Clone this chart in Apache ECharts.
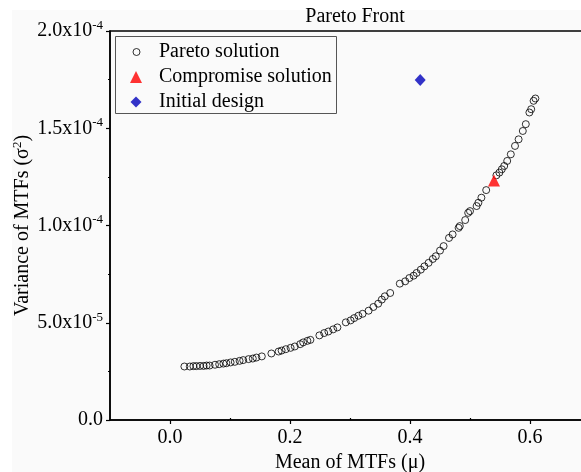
<!DOCTYPE html>
<html>
<head>
<meta charset="utf-8">
<script src="https://cdn.jsdelivr.net/npm/echarts@6/dist/echarts.min.js"></script>
<style>
  html, body { margin: 0; padding: 0; background: #fff; }
  #chart { width: 581px; height: 472px; }
</style>
</head>
<body>
<div id="chart"></div>
<script>
// mean (x) and variance (y) of the pareto front
var paretoMean = [0.024, 0.033, 0.039, 0.044, 0.050, 0.056, 0.061, 0.066, 0.075, 0.082,
  0.089, 0.094, 0.101, 0.108, 0.116, 0.122, 0.131, 0.138, 0.144, 0.153,
  0.169, 0.181, 0.186, 0.193, 0.201, 0.208, 0.217, 0.222, 0.229, 0.234,
  0.249, 0.257, 0.264, 0.272, 0.279, 0.293, 0.301, 0.307, 0.314, 0.321,
  0.331, 0.339, 0.347, 0.353, 0.358, 0.367, 0.383, 0.392, 0.399, 0.406,
  0.411, 0.418, 0.424, 0.431, 0.438, 0.443, 0.450, 0.456, 0.465, 0.471,
  0.481, 0.483, 0.492, 0.497, 0.500, 0.511, 0.514, 0.519, 0.527, 0.544,
  0.549, 0.553, 0.557, 0.562, 0.568, 0.575, 0.581, 0.588, 0.593, 0.599,
  0.602, 0.606, 0.609];
var paretoVar = [2.75e-5, 2.75e-5, 2.77e-5, 2.77e-5, 2.78e-5, 2.78e-5, 2.80e-5, 2.80e-5, 2.84e-5, 2.87e-5,
  2.90e-5, 2.92e-5, 2.96e-5, 2.99e-5, 3.04e-5, 3.08e-5, 3.13e-5, 3.16e-5, 3.21e-5, 3.27e-5,
  3.42e-5, 3.52e-5, 3.57e-5, 3.64e-5, 3.71e-5, 3.78e-5, 3.90e-5, 3.99e-5, 4.07e-5, 4.12e-5,
  4.35e-5, 4.47e-5, 4.55e-5, 4.66e-5, 4.76e-5, 5.02e-5, 5.12e-5, 5.24e-5, 5.36e-5, 5.46e-5,
  5.62e-5, 5.81e-5, 5.98e-5, 6.19e-5, 6.36e-5, 6.53e-5, 7.01e-5, 7.13e-5, 7.30e-5, 7.42e-5,
  7.56e-5, 7.73e-5, 7.90e-5, 8.08e-5, 8.28e-5, 8.42e-5, 8.71e-5, 8.94e-5, 9.36e-5, 9.54e-5,
  9.88e-5, 9.97e-5, 1.028e-4, 1.065e-4, 1.074e-4, 1.100e-4, 1.117e-4, 1.143e-4, 1.182e-4, 1.258e-4,
  1.272e-4, 1.289e-4, 1.306e-4, 1.332e-4, 1.366e-4, 1.409e-4, 1.443e-4, 1.486e-4, 1.521e-4, 1.581e-4,
  1.598e-4, 1.641e-4, 1.653e-4];
var compromise = [0.540, 1.232e-4];
var initialDesign = [0.417, 1.748e-4];

// tick labels
var xTicks = [0, 0.2, 0.4, 0.6];
var xMinorTicks = [0.1, 0.3, 0.5];
var xTickText = ['0.0', '0.2', '0.4', '0.6'];
var yTicks = [0, 5e-5, 1e-4, 1.5e-4, 2e-4];
var yMinorTicks = [2.5e-5, 7.5e-5, 1.25e-4, 1.75e-4];
var yTickText = ['0.0', '5.0x10', '1.0x10', '1.5x10', '2.0x10'];
var yTickExp = ['', '-5', '-4', '-4', '-4'];

var FONT = '"Liberation Serif", "Times New Roman", serif';

function pick(list, v) {
  for (var i = 0; i < list.length; i++) {
    if (Math.abs(list[i] - v) < 1e-9) return i;
  }
  return -1;
}

var paretoData = paretoMean.map(function(m, i) { return [m, paretoVar[i]]; });

var myChart = echarts.init(document.getElementById('chart'));

function legendText(padLeft) {
  return { fontFamily: FONT, fontSize: 20, color: '#000', lineHeight: 22, padding: [0, 0, 0, padLeft] };
}

var option = {
  backgroundColor: '#fff',
  animation: false,
  title: {
    text: 'Pareto Front',
    left: 350,
    top: 2,
    textAlign: 'center',
    textStyle: { fontFamily: FONT, fontSize: 20, fontWeight: 'normal', color: '#000' }
  },
  graphic: [
    { type: 'rect', z: -10, shape: { x: 12, y: 10, width: 581, height: 472 }, style: { fill: '#fafafa' } },
    { type: 'rect', z: 10, shape: { x: 115.5, y: 36.5, width: 221, height: 77 }, style: { fill: 'none', stroke: '#555', lineWidth: 1 } }
  ],
  grid: { left: 110, top: 31, right: -9, bottom: 52, outerBoundsMode: 'none',
    show: true, borderColor: '#000', borderWidth: 1.5 },
  legend: [
    { data: ['Pareto solution'], orient: 'vertical', left: 132.5, top: 41, padding: 0, itemWidth: 7, itemHeight: 7,
      itemStyle: { color: 'rgba(0,0,0,0)', borderColor: '#000', borderWidth: 1 },
      textStyle: legendText(14) },
    { data: ['Compromise solution'], orient: 'vertical', left: 130, top: 66, padding: 0, itemWidth: 12, itemHeight: 12,
      textStyle: legendText(12) },
    { data: ['Initial design'], orient: 'vertical', left: 130.5, top: 91, padding: 0, itemWidth: 11, itemHeight: 11,
      textStyle: legendText(12.5) }
  ],
  xAxis: [{
    type: 'value',
    min: -0.1,
    max: 0.7,
    interval: 0.1,
    name: 'Mean of MTFs (\u03bc)',
    nameLocation: 'middle',
    nameGap: 33,
    nameTextStyle: { fontFamily: FONT, fontSize: 20, color: '#000' },
    axisLine: { onZero: false, lineStyle: { color: '#000', width: 1.5 } },
    axisTick: { customValues: xTicks, length: 4, lineStyle: { color: '#000', width: 1.2 } },
    axisLabel: {
      customValues: xTicks,
      margin: 8,
      fontFamily: FONT, fontSize: 20, color: '#000',
      formatter: function(v) { var i = pick(xTicks, v); return i < 0 ? '' : xTickText[i]; }
    },
    splitLine: { show: false }
  }, {
    type: 'value',
    position: 'bottom',
    min: -0.1,
    max: 0.7,
    interval: 0.1,
    axisLine: { show: false, onZero: false },
    axisTick: { customValues: xMinorTicks, inside: true, length: 2, lineStyle: { color: '#000', width: 1.2 } },
    axisLabel: { show: false },
    splitLine: { show: false }
  }],
  yAxis: [{
    type: 'value',
    min: 0,
    max: 2e-4,
    interval: 2.5e-5,
    name: '{n|Variance of MTFs (\u03c3}{s|2}{n|)}',
    nameLocation: 'middle',
    nameGap: 75,
    nameMoveOverlap: false,
    nameTextStyle: {
      rich: {
        n: { fontFamily: FONT, fontSize: 20, color: '#000', lineHeight: 24 },
        s: { fontFamily: FONT, fontSize: 13, color: '#000', lineHeight: 13, verticalAlign: 'top' }
      }
    },
    axisLine: { onZero: false, lineStyle: { color: '#000', width: 1.5 } },
    axisTick: { customValues: yTicks, length: 4, lineStyle: { color: '#000', width: 1.2 } },
    axisLabel: {
      customValues: yTicks,
      margin: 7,
      formatter: function(v) {
        var i = pick(yTicks, v);
        if (i < 0) return '';
        return yTickExp[i] ? '{b|' + yTickText[i] + '}{s|' + yTickExp[i] + '}' : '{b|' + yTickText[i] + '}';
      },
      rich: {
        b: { fontFamily: FONT, fontSize: 20, color: '#000', lineHeight: 24 },
        s: { fontFamily: FONT, fontSize: 13, color: '#000', lineHeight: 13, verticalAlign: 'top' }
      }
    },
    splitLine: { show: false }
  }, {
    type: 'value',
    position: 'left',
    min: 0,
    max: 2e-4,
    interval: 2.5e-5,
    axisLine: { show: false, onZero: false },
    axisTick: { customValues: yMinorTicks, length: 2, lineStyle: { color: '#000', width: 1.2 } },
    axisLabel: { show: false },
    splitLine: { show: false }
  }],
  series: [{
    name: 'Pareto solution',
    type: 'scatter',
    symbol: 'circle',
    symbolSize: 7,
    itemStyle: { color: 'rgba(0,0,0,0)', borderColor: '#000', borderWidth: 1 },
    data: paretoData
  }, {
    name: 'Compromise solution',
    type: 'scatter',
    symbol: 'triangle',
    symbolSize: 12,
    itemStyle: { color: '#ff0000' },
    data: [compromise]
  }, {
    name: 'Initial design',
    type: 'scatter',
    symbol: 'diamond',
    symbolSize: [11, 12],
    itemStyle: { color: '#0000bb' },
    data: [initialDesign]
  }]
};

myChart.setOption(option);
</script>
</body>
</html>
